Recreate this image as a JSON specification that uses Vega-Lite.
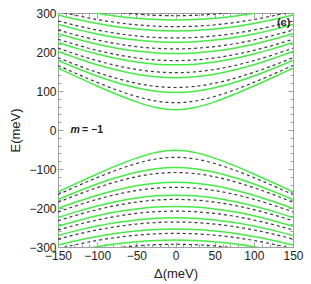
{
  "$schema": "https://vega.github.io/schema/vega-lite/v6.json",
  "autosize": "none",
  "width": 235,
  "height": 234,
  "padding": {"left": 58, "top": 13, "right": 18, "bottom": 37},
  "background": "white",
  "view": {"stroke": "#a0a0a0", "strokeWidth": 1},
  "config": {
    "axis": {
      "labelFont": "Liberation Sans", "titleFont": "Liberation Sans",
      "labelFontSize": 12, "titleFontSize": 13, "titleFontWeight": "normal",
      "labelColor": "#222", "titleColor": "#222",
      "domainColor": "#a0a0a0", "tickColor": "#a0a0a0", "grid": false,
      "labelOverlap": false, "labelFlush": false
    },
    "text": {"font": "Liberation Sans"}
  },
  "resolve": {"axis": {"x": "independent", "y": "independent"}},
  "datasets": {
    "lv": [
      {"d": -150, "g1": 158.8, "g2": 178.1, "g3": 201.1, "g4": 224.5, "g5": 246.8, "g6": 270.4, "g7": 295.0, "g8": 319.4, "n1": -158.8, "n2": -178.1, "n3": -201.1, "n4": -224.5, "n5": -246.8, "n6": -270.4, "n7": -295.0, "n8": -319.4, "k1": 165.5, "k2": 185.4, "k3": 210.0, "k4": 232.8, "k5": 256.4, "k6": 279.6, "k7": 304.5, "k8": 329.2, "j1": -165.5, "j2": -185.4, "j3": -210.0, "j4": -232.8, "j5": -256.4, "j6": -279.6, "j7": -304.5, "j8": -329.2},
      {"d": -125, "g1": 135.4, "g2": 157.6, "g3": 183.3, "g4": 208.6, "g5": 232.5, "g6": 257.4, "g7": 283.1, "g8": 308.5, "n1": -135.4, "n2": -157.6, "n3": -183.3, "n4": -208.6, "n5": -232.5, "n6": -257.4, "n7": -283.1, "n8": -308.5, "k1": 143.3, "k2": 165.8, "k3": 193.0, "k4": 217.5, "k5": 242.7, "k6": 267.1, "k7": 293.0, "k8": 318.6, "j1": -143.3, "j2": -165.8, "j3": -193.0, "j4": -217.5, "j5": -242.7, "j6": -267.1, "j7": -293.0, "j8": -318.6},
      {"d": -100, "g1": 112.7, "g2": 138.6, "g3": 167.2, "g4": 194.7, "g5": 220.0, "g6": 246.2, "g7": 273.0, "g8": 299.2, "n1": -112.7, "n2": -138.6, "n3": -167.2, "n4": -194.7, "n5": -220.0, "n6": -246.2, "n7": -273.0, "n8": -299.2, "k1": 122.1, "k2": 147.9, "k3": 177.8, "k4": 204.2, "k5": 230.8, "k6": 256.3, "k7": 283.2, "k8": 309.6, "j1": -122.1, "j2": -147.9, "j3": -177.8, "j4": -204.2, "j5": -230.8, "j6": -256.3, "j7": -283.2, "j8": -309.6},
      {"d": -75, "g1": 91.3, "g2": 121.8, "g3": 153.6, "g4": 183.1, "g5": 209.9, "g6": 237.2, "g7": 264.8, "g8": 291.8, "n1": -91.3, "n2": -121.8, "n3": -153.6, "n4": -183.1, "n5": -209.9, "n6": -237.2, "n7": -264.8, "n8": -291.8, "k1": 102.6, "k2": 132.3, "k3": 165.0, "k4": 193.2, "k5": 221.1, "k6": 247.6, "k7": 275.4, "k8": 302.4, "j1": -102.6, "j2": -132.3, "j3": -165.0, "j4": -193.2, "j5": -221.1, "j6": -247.6, "j7": -275.4, "j8": -302.4},
      {"d": -50, "g1": 72.1, "g2": 108.2, "g3": 143.0, "g4": 174.3, "g5": 202.3, "g6": 230.5, "g7": 258.9, "g8": 286.4, "n1": -72.1, "n2": -108.2, "n3": -143.0, "n4": -174.3, "n5": -202.3, "n6": -230.5, "n7": -258.9, "n8": -286.4, "k1": 86.0, "k2": 119.9, "k3": 155.3, "k4": 184.9, "k5": 213.9, "k6": 241.2, "k7": 269.7, "k8": 297.2, "j1": -86.0, "j2": -119.9, "j3": -155.3, "j4": -184.9, "j5": -213.9, "j6": -241.2, "j7": -269.7, "j8": -297.2},
      {"d": -25, "g1": 57.7, "g2": 99.2, "g3": 136.3, "g4": 168.9, "g5": 197.6, "g6": 226.4, "g7": 255.2, "g8": 283.1, "n1": -57.7, "n2": -99.2, "n3": -136.3, "n4": -168.9, "n5": -197.6, "n6": -226.4, "n7": -255.2, "n8": -283.1, "k1": 74.3, "k2": 111.8, "k3": 149.1, "k4": 179.7, "k5": 209.5, "k6": 237.3, "k7": 266.2, "k8": 294.1, "j1": -74.3, "j2": -111.8, "j3": -149.1, "j4": -179.7, "j5": -209.5, "j6": -237.3, "j7": -266.2, "j8": -294.1},
      {"d": 0, "g1": 52, "g2": 96, "g3": 134, "g4": 167, "g5": 196, "g6": 225, "g7": 254, "g8": 282, "n1": -52, "n2": -96, "n3": -134, "n4": -167, "n5": -196, "n6": -225, "n7": -254, "n8": -282, "k1": 70, "k2": 109, "k3": 147, "k4": 178, "k5": 208, "k6": 236, "k7": 265, "k8": 293, "j1": -70, "j2": -109, "j3": -147, "j4": -178, "j5": -208, "j6": -236, "j7": -265, "j8": -293},
      {"d": 25, "g1": 57.7, "g2": 99.2, "g3": 136.3, "g4": 168.9, "g5": 197.6, "g6": 226.4, "g7": 255.2, "g8": 283.1, "n1": -57.7, "n2": -99.2, "n3": -136.3, "n4": -168.9, "n5": -197.6, "n6": -226.4, "n7": -255.2, "n8": -283.1, "k1": 74.3, "k2": 111.8, "k3": 149.1, "k4": 179.7, "k5": 209.5, "k6": 237.3, "k7": 266.2, "k8": 294.1, "j1": -74.3, "j2": -111.8, "j3": -149.1, "j4": -179.7, "j5": -209.5, "j6": -237.3, "j7": -266.2, "j8": -294.1},
      {"d": 50, "g1": 72.1, "g2": 108.2, "g3": 143.0, "g4": 174.3, "g5": 202.3, "g6": 230.5, "g7": 258.9, "g8": 286.4, "n1": -72.1, "n2": -108.2, "n3": -143.0, "n4": -174.3, "n5": -202.3, "n6": -230.5, "n7": -258.9, "n8": -286.4, "k1": 86.0, "k2": 119.9, "k3": 155.3, "k4": 184.9, "k5": 213.9, "k6": 241.2, "k7": 269.7, "k8": 297.2, "j1": -86.0, "j2": -119.9, "j3": -155.3, "j4": -184.9, "j5": -213.9, "j6": -241.2, "j7": -269.7, "j8": -297.2},
      {"d": 75, "g1": 91.3, "g2": 121.8, "g3": 153.6, "g4": 183.1, "g5": 209.9, "g6": 237.2, "g7": 264.8, "g8": 291.8, "n1": -91.3, "n2": -121.8, "n3": -153.6, "n4": -183.1, "n5": -209.9, "n6": -237.2, "n7": -264.8, "n8": -291.8, "k1": 102.6, "k2": 132.3, "k3": 165.0, "k4": 193.2, "k5": 221.1, "k6": 247.6, "k7": 275.4, "k8": 302.4, "j1": -102.6, "j2": -132.3, "j3": -165.0, "j4": -193.2, "j5": -221.1, "j6": -247.6, "j7": -275.4, "j8": -302.4},
      {"d": 100, "g1": 112.7, "g2": 138.6, "g3": 167.2, "g4": 194.7, "g5": 220.0, "g6": 246.2, "g7": 273.0, "g8": 299.2, "n1": -112.7, "n2": -138.6, "n3": -167.2, "n4": -194.7, "n5": -220.0, "n6": -246.2, "n7": -273.0, "n8": -299.2, "k1": 122.1, "k2": 147.9, "k3": 177.8, "k4": 204.2, "k5": 230.8, "k6": 256.3, "k7": 283.2, "k8": 309.6, "j1": -122.1, "j2": -147.9, "j3": -177.8, "j4": -204.2, "j5": -230.8, "j6": -256.3, "j7": -283.2, "j8": -309.6},
      {"d": 125, "g1": 135.4, "g2": 157.6, "g3": 183.3, "g4": 208.6, "g5": 232.5, "g6": 257.4, "g7": 283.1, "g8": 308.5, "n1": -135.4, "n2": -157.6, "n3": -183.3, "n4": -208.6, "n5": -232.5, "n6": -257.4, "n7": -283.1, "n8": -308.5, "k1": 143.3, "k2": 165.8, "k3": 193.0, "k4": 217.5, "k5": 242.7, "k6": 267.1, "k7": 293.0, "k8": 318.6, "j1": -143.3, "j2": -165.8, "j3": -193.0, "j4": -217.5, "j5": -242.7, "j6": -267.1, "j7": -293.0, "j8": -318.6},
      {"d": 150, "g1": 158.8, "g2": 178.1, "g3": 201.1, "g4": 224.5, "g5": 246.8, "g6": 270.4, "g7": 295.0, "g8": 319.4, "n1": -158.8, "n2": -178.1, "n3": -201.1, "n4": -224.5, "n5": -246.8, "n6": -270.4, "n7": -295.0, "n8": -319.4, "k1": 165.5, "k2": 185.4, "k3": 210.0, "k4": 232.8, "k5": 256.4, "k6": 279.6, "k7": 304.5, "k8": 329.2, "j1": -165.5, "j2": -185.4, "j3": -210.0, "j4": -232.8, "j5": -256.4, "j6": -279.6, "j7": -304.5, "j8": -329.2}
    ]
  },
  "layer": [
    {
      "data": {"name": "lv"},
      "transform": [{"fold": ["k1","k2","k3","k4","k5","k6","k7","k8","j1","j2","j3","j4","j5","j6","j7","j8"], "as": ["c", "e"]}],
      "mark": {"type": "line", "color": "#3a3a3a", "strokeWidth": 1.2, "strokeDash": [3, 3], "interpolate": "monotone", "clip": true},
      "encoding": {
        "x": {"field": "d", "type": "quantitative", "scale": {"domain": [-150, 150], "nice": false},
          "axis": {"orient": "top", "title": null, "labels": false,
            "values": [-150,-140,-130,-120,-110,-100,-90,-80,-70,-60,-50,-40,-30,-20,-10,0,10,20,30,40,50,60,70,80,90,100,110,120,130,140,150],
            "tickSize": {"condition": {"test": "datum.value % 50 === 0", "value": -5}, "value": -3}}},
        "y": {"field": "e", "type": "quantitative", "scale": {"domain": [-300, 300], "nice": false},
          "axis": {"orient": "right", "title": null, "labels": false,
            "values": [-300,-280,-260,-240,-220,-200,-180,-160,-140,-120,-100,-80,-60,-40,-20,0,20,40,60,80,100,120,140,160,180,200,220,240,260,280,300],
            "tickSize": {"condition": {"test": "datum.value % 100 === 0", "value": -5}, "value": -3}}},
        "detail": {"field": "c"}
      }
    },
    {
      "data": {"name": "lv"},
      "transform": [{"fold": ["g1","g2","g3","g4","g5","g6","g7","g8","n1","n2","n3","n4","n5","n6","n7","n8"], "as": ["c", "e"]}],
      "mark": {"type": "line", "color": "#44ec44", "strokeWidth": 1.5, "interpolate": "monotone", "clip": true},
      "encoding": {
        "x": {"field": "d", "type": "quantitative", "scale": {"domain": [-150, 150], "nice": false},
          "axis": {"orient": "bottom", "title": "Δ(meV)", "titlePadding": 4,
            "values": [-150,-140,-130,-120,-110,-100,-90,-80,-70,-60,-50,-40,-30,-20,-10,0,10,20,30,40,50,60,70,80,90,100,110,120,130,140,150],
            "labelExpr": "datum.value % 50 === 0 ? (datum.value < 0 ? '−' + abs(datum.value) : '' + datum.value) : ''",
            "labelPadding": 8,
            "tickSize": {"condition": {"test": "datum.value % 50 === 0", "value": -5}, "value": -3}}},
        "y": {"field": "e", "type": "quantitative", "scale": {"domain": [-300, 300], "nice": false},
          "axis": {"orient": "left", "title": "E(meV)", "titlePadding": 6,
            "values": [-300,-280,-260,-240,-220,-200,-180,-160,-140,-120,-100,-80,-60,-40,-20,0,20,40,60,80,100,120,140,160,180,200,220,240,260,280,300],
            "labelExpr": "datum.value % 100 === 0 ? (datum.value < 0 ? '−' + abs(datum.value) : '' + datum.value) : ''",
            "labelPadding": 7,
            "tickSize": {"condition": {"test": "datum.value % 100 === 0", "value": -5}, "value": -3}}},
        "detail": {"field": "c"}
      }
    },
    {
      "data": {"values": [{}]},
      "mark": {"type": "text", "text": "(c)", "fontWeight": "bold", "fontSize": 11, "color": "#222"},
      "encoding": {"x": {"datum": 138, "axis": null}, "y": {"datum": 274, "axis": null}}
    },
    {
      "data": {"values": [{}]},
      "mark": {"type": "text", "text": "m", "fontWeight": "bold", "fontStyle": "italic", "fontSize": 10.5, "color": "#222"},
      "encoding": {"x": {"datum": -128, "axis": null}, "y": {"datum": 0, "axis": null}}
    },
    {
      "data": {"values": [{}]},
      "mark": {"type": "text", "text": "= −1", "fontWeight": "bold", "fontSize": 10.5, "color": "#222"},
      "encoding": {"x": {"datum": -106, "axis": null}, "y": {"datum": 0, "axis": null}}
    }
  ]
}
